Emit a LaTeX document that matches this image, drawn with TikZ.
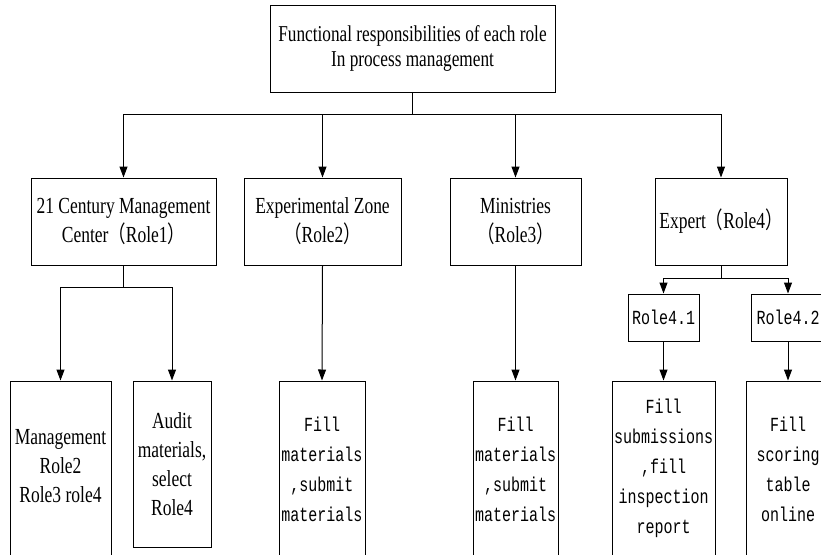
\documentclass[tikz,border=0pt]{standalone}
\usepackage{fontspec}
\setmainfont[FakeStretch=0.76]{Liberation Serif}
\setmonofont[FakeStretch=0.75]{Liberation Mono}
\newfontfamily\cjk[FakeStretch=0.76]{Noto Sans CJK SC}
\usetikzlibrary{arrows.meta}
\newcommand{\lp}{{\cjk （}}
\newcommand{\rp}{{\cjk ）}}
\begin{document}
\begin{tikzpicture}[x=1pt,y=-1pt,
  box/.style={draw, line width=1pt, inner sep=0pt, align=center},
  arr/.style={line width=1pt, -{Triangle[length=11pt,width=8pt]}},
  topfont/.style={font=\fontsize{22.7}{25}\selectfont},
  serfont/.style={font=\fontsize{23}{29}\selectfont},
  monofont/.style={font=\ttfamily\fontsize{20}{30}\selectfont},
  txt/.style={inner sep=0pt, align=center}]
\useasboundingbox (0,0) rectangle (821,554);
\clip (0,0) rectangle (821,554);
% top
\node[box, topfont, minimum width=285pt, minimum height=87pt] (top) at (412.5,48.5)
  {Functional responsibilities of each role\\In process management};
% level 2
\node[box, serfont, minimum width=185pt, minimum height=87pt] (A) at (123.5,221.5)
  {21 Century Management\\Center\lp Role1\rp};
\node[box, serfont, minimum width=157pt, minimum height=87pt] (B) at (322.5,221.5)
  {Experimental Zone\\\lp Role2\rp};
\node[box, serfont, minimum width=131pt, minimum height=87pt] (C) at (515.5,221.5)
  {Ministries\\\lp Role3\rp};
\node[box, serfont, minimum width=132pt, minimum height=87pt] (D) at (721,221.5)
  {Expert\lp Role4\rp};
% role 4 sub
\node[box, monofont, minimum width=71pt, minimum height=47pt] (R41) at (663.5,317.5) {Role4.1};
\node[box, monofont, minimum width=74pt, minimum height=47pt] (R42) at (788,317.5) {Role4.2};
% bottom boxes
\node[box, minimum width=101pt, minimum height=219pt] (Mg) at (60.5,490.5) {};
\node[txt, serfont] (Mgt) at (60.5,466) {Management\\Role2\\Role3 role4};
\node[box, serfont, minimum width=78pt, minimum height=166pt] (Au) at (172,464)
  {Audit\\materials,\\select\\Role4};
\node[box, minimum width=86pt, minimum height=219pt] (Bc) at (322,490.5) {};
\node[txt, monofont] (Bct) at (322,469) {Fill\\materials\\,submit\\materials};
\node[box, minimum width=85pt, minimum height=219pt] (Cc) at (515.5,490.5) {};
\node[txt, monofont] (Cct) at (515.5,469) {Fill\\materials\\,submit\\materials};
\node[box, minimum width=103pt, minimum height=219pt] (R41c) at (663.5,490.5) {};
\node[txt, monofont] (R41t) at (663.5,468) {Fill\\submissions\\,fill\\inspection\\report};
\node[box, minimum width=84pt, minimum height=219pt] (R42c) at (788,490.5) {};
\node[txt, monofont] (R42t) at (788,469) {Fill\\scoring\\table\\online};
% connectors
\foreach \n in {A,B,C,D} \draw[arr] (top.south) -- ++(0,22) -| (\n.north);
\foreach \n in {Mg,Au} \draw[arr] (A.south) -- ++(0,22) -| (\n.north);
\foreach \n in {R41,R42} \draw[arr] (D.south) -- ++(0,13) -| (\n.north);
\draw[arr] (B.south) -- (Bc.north);
\draw[arr] (C.south) -- (Cc.north);
\draw[arr] (R41.south) -- (R41c.north);
\draw[arr] (R42.south) -- (R42c.north);
\end{tikzpicture}
\end{document}
